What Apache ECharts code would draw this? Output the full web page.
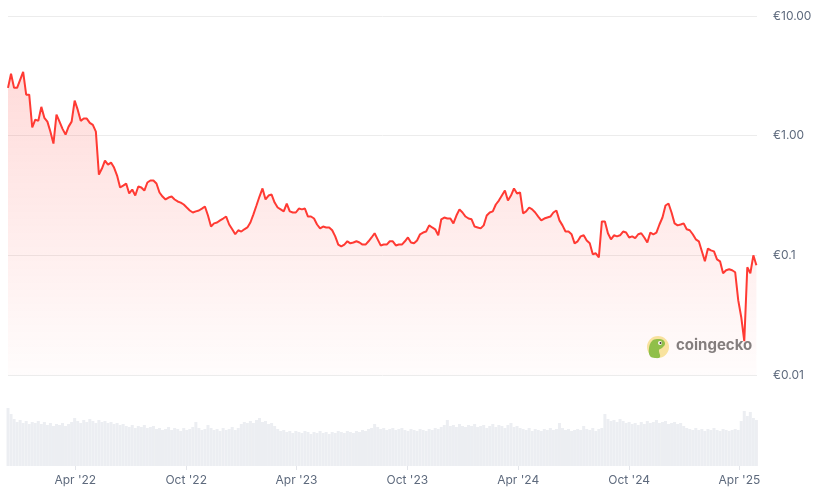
<!DOCTYPE html>
<html>
<head>
<meta charset="utf-8">
<script src="https://cdn.jsdelivr.net/npm/echarts@6/dist/echarts.min.js"></script>
<style>
html,body{margin:0;padding:0;background:#fff;}
#chart{width:822px;height:490px;}
</style>
</head>
<body>
<div id="chart"></div>
<script>
// Sampling of the series: one value every 5 days, starting 11 Dec 2021
const startDate = '2021-12-11';
const stepDays = 5;
const axisStart = '2021-12-11';
const axisEnd = '2025-04-30';

// Price in EUR (log scale)
const prices = [
  2.51, 3.29, 2.51, 2.51, 2.93, 3.41, 2.20, 2.20, 1.17, 1.36,
  1.33, 1.74, 1.41, 1.31, 1.08, 0.858, 1.50, 1.31, 1.14, 1.02,
  1.19, 1.31, 1.96, 1.65, 1.33, 1.39, 1.39, 1.28, 1.23, 1.08,
  0.473, 0.531, 0.619, 0.573, 0.596, 0.541, 0.464, 0.369, 0.383, 0.398,
  0.329, 0.355, 0.316, 0.376, 0.369, 0.348, 0.406, 0.422, 0.422, 0.398,
  0.335, 0.310, 0.293, 0.304, 0.310, 0.293, 0.282, 0.276, 0.266, 0.251,
  0.237, 0.228, 0.233, 0.237, 0.246, 0.256, 0.215, 0.174, 0.185, 0.188,
  0.196, 0.203, 0.211, 0.181, 0.165, 0.150, 0.162, 0.158, 0.165, 0.171,
  0.188, 0.220, 0.261, 0.310, 0.362, 0.293, 0.316, 0.322, 0.276, 0.251,
  0.242, 0.233, 0.271, 0.233, 0.228, 0.228, 0.246, 0.242, 0.246, 0.211,
  0.211, 0.203, 0.181, 0.168, 0.174, 0.171, 0.171, 0.162, 0.144, 0.123,
  0.119, 0.123, 0.131, 0.126, 0.128, 0.131, 0.128, 0.123, 0.123, 0.131,
  0.141, 0.153, 0.136, 0.121, 0.123, 0.123, 0.131, 0.131, 0.121, 0.123,
  0.123, 0.131, 0.141, 0.128, 0.126, 0.133, 0.150, 0.155, 0.158, 0.178,
  0.171, 0.165, 0.147, 0.200, 0.207, 0.203, 0.203, 0.185, 0.215, 0.242,
  0.228, 0.211, 0.203, 0.200, 0.174, 0.171, 0.168, 0.178, 0.215, 0.228,
  0.233, 0.266, 0.287, 0.316, 0.348, 0.287, 0.316, 0.362, 0.329, 0.335,
  0.224, 0.233, 0.251, 0.242, 0.228, 0.211, 0.196, 0.203, 0.207, 0.211,
  0.228, 0.237, 0.196, 0.178, 0.158, 0.158, 0.150, 0.126, 0.131, 0.144,
  0.147, 0.133, 0.126, 0.102, 0.104, 0.0962, 0.192, 0.192, 0.153, 0.136,
  0.147, 0.144, 0.147, 0.158, 0.155, 0.141, 0.144, 0.139, 0.150, 0.153,
  0.141, 0.128, 0.155, 0.150, 0.155, 0.181, 0.207, 0.261, 0.271, 0.228,
  0.185, 0.178, 0.181, 0.185, 0.165, 0.162, 0.150, 0.136, 0.131, 0.108,
  0.0891, 0.114, 0.110, 0.108, 0.0926, 0.0891, 0.0708, 0.0750, 0.0764, 0.0750,
  0.0722, 0.0422, 0.0304, 0.0192, 0.0794, 0.0708, 0.100, 0.0825
];

// Trading volume (millions EUR, estimated)
const volumes = [
  58, 52, 47, 44, 46, 43, 45, 42, 44, 43,
  45, 42, 44, 41, 43, 40, 42, 41, 43, 40,
  42, 44, 48, 45, 43, 46, 44, 47, 45, 43,
  46, 44, 45, 43, 44, 42, 43, 41, 42, 40,
  39, 41, 38, 40, 39, 41, 38, 39, 40, 37,
  38, 36, 37, 39, 36, 38, 37, 35, 38, 36,
  37, 39, 44, 38, 36, 37, 41, 38, 36, 37,
  35, 38, 36, 37, 39, 36, 38, 42, 44, 43,
  45, 43, 46, 48, 44, 45, 42, 43, 40, 37,
  35, 36, 34, 35, 33, 35, 34, 33, 35, 34,
  32, 34, 33, 35, 33, 34, 32, 34, 33, 35,
  34, 33, 35, 34, 33, 35, 34, 36, 35, 37,
  38, 42, 39, 37, 38, 36, 37, 38, 36, 37,
  38, 36, 35, 37, 36, 35, 37, 36, 35, 37,
  36, 38, 37, 39, 41, 46, 40, 41, 39, 42,
  40, 39, 41, 40, 42, 39, 40, 41, 38, 40,
  42, 39, 41, 40, 38, 41, 43, 39, 40, 38,
  37, 36, 38, 35, 37, 36, 35, 37, 36, 38,
  36, 37, 43, 38, 36, 37, 35, 36, 37, 36,
  40, 37, 36, 38, 35, 37, 38, 52, 47, 45,
  46, 44, 47, 45, 43, 44, 42, 43, 41, 44,
  42, 45, 43, 44, 46, 43, 44, 45, 42, 43,
  44, 42, 43, 40, 38, 37, 36, 38, 36, 37,
  35, 37, 36, 38, 36, 35, 37, 36, 35, 36,
  37, 36, 45, 55, 50, 54, 48, 46
];

const xTickDates = ['2022-04-01','2022-10-01','2023-04-01','2023-10-01','2024-04-01','2024-10-01','2025-04-01'];
const xTickLabels = ["Apr '22","Oct '22","Apr '23","Oct '23","Apr '24","Oct '24","Apr '25"];
const yTickValues = [0.01, 0.1, 1, 10];
const yTickLabels = ['€0.01', '€0.1', '€1.00', '€10.00'];

function ts(s){ const p = s.split('-').map(Number); return Date.UTC(p[0], p[1]-1, p[2]); }
const DAY = 86400000;
const t0 = ts(startDate);
const times = prices.map((_, i) => t0 + i * stepDays * DAY);
const priceData = prices.map((v, i) => [times[i], v]);
const volData = volumes.map((v, i) => [times[i], v]);
const tickTs = xTickDates.map(ts);

const FONT = 'Inter, "Noto Sans", sans-serif';
const LABEL_COLOR = '#5e6a7d';

const chart = echarts.init(document.getElementById('chart'), null, {renderer: 'canvas'});
chart.setOption({
  animation: false,
  grid: [
    {left: 8, right: 65, top: 16, height: 359},
    {left: 8, right: 65, top: 404, height: 62}
  ],
  xAxis: [
    {type: 'value', gridIndex: 0, min: ts(axisStart), max: ts(axisEnd), show: false},
    {
      type: 'value', gridIndex: 1, min: ts(axisStart), max: ts(axisEnd),
      axisLine: {show: false},
      axisTick: {show: true, customValues: tickTs, length: 4, lineStyle: {color: '#e3e5ea'}},
      splitLine: {show: false},
      axisLabel: {
        customValues: tickTs, margin: 8, color: LABEL_COLOR, fontSize: 12, fontFamily: FONT,
        formatter: function (v) {
          const k = tickTs.findIndex(t => Math.abs(t - v) < DAY / 2);
          return k >= 0 ? xTickLabels[k] : '';
        }
      }
    }
  ],
  yAxis: [
    {
      type: 'log', logBase: 10, gridIndex: 0, position: 'right', min: 0.01, max: 10,
      axisLine: {show: false}, axisTick: {show: false},
      splitLine: {show: true, lineStyle: {color: '#ececec', width: 1}},
      axisLabel: {
        margin: 16, color: LABEL_COLOR, fontSize: 12, fontFamily: FONT,
        formatter: function (v) {
          const k = yTickValues.findIndex(t => Math.abs(Math.log10(t) - Math.log10(v)) < 0.01);
          return k >= 0 ? yTickLabels[k] : '';
        }
      }
    },
    {type: 'value', gridIndex: 1, min: 0, max: 62, show: false}
  ],
  series: [
    {
      type: 'bar', xAxisIndex: 1, yAxisIndex: 1, data: volData,
      barWidth: 3, itemStyle: {color: '#eceef2'}, silent: true
    },
    {
      type: 'line', xAxisIndex: 0, yAxisIndex: 0, data: priceData,
      showSymbol: false, symbol: 'none',
      lineStyle: {color: '#ff3a33', width: 2},
      areaStyle: {
        origin: 'start',
        color: new echarts.graphic.LinearGradient(0, 0, 0, 1, [
          {offset: 0, color: 'rgba(255,58,51,0.26)'},
          {offset: 1, color: 'rgba(255,58,51,0.02)'}
        ])
      },
      z: 3
    }
  ],
  graphic: [
    {type: 'circle', shape: {cx: 658, cy: 347, r: 11}, style: {fill: '#f8e7a1'}, z: 1},
    {type: 'polygon', shape: {smooth: 0.4, points: [[650,356],[649,348],[652,341],[657,339],[663,340],[665,344],[662,348],[659,350],[660,357],[655,358]]}, style: {fill: '#8dc34a'}, z: 1},
    {type: 'circle', shape: {cx: 660, cy: 343, r: 2}, style: {fill: '#ffffff'}, z: 1},
    {type: 'circle', shape: {cx: 660.5, cy: 343, r: 1}, style: {fill: '#333333'}, z: 1},
    {type: 'text', left: 676, top: 338, style: {text: 'coingecko', fill: '#808080', font: 'bold 15px Inter, "Noto Sans", sans-serif'}, z: 1}
  ]
});
</script>
</body>
</html>
